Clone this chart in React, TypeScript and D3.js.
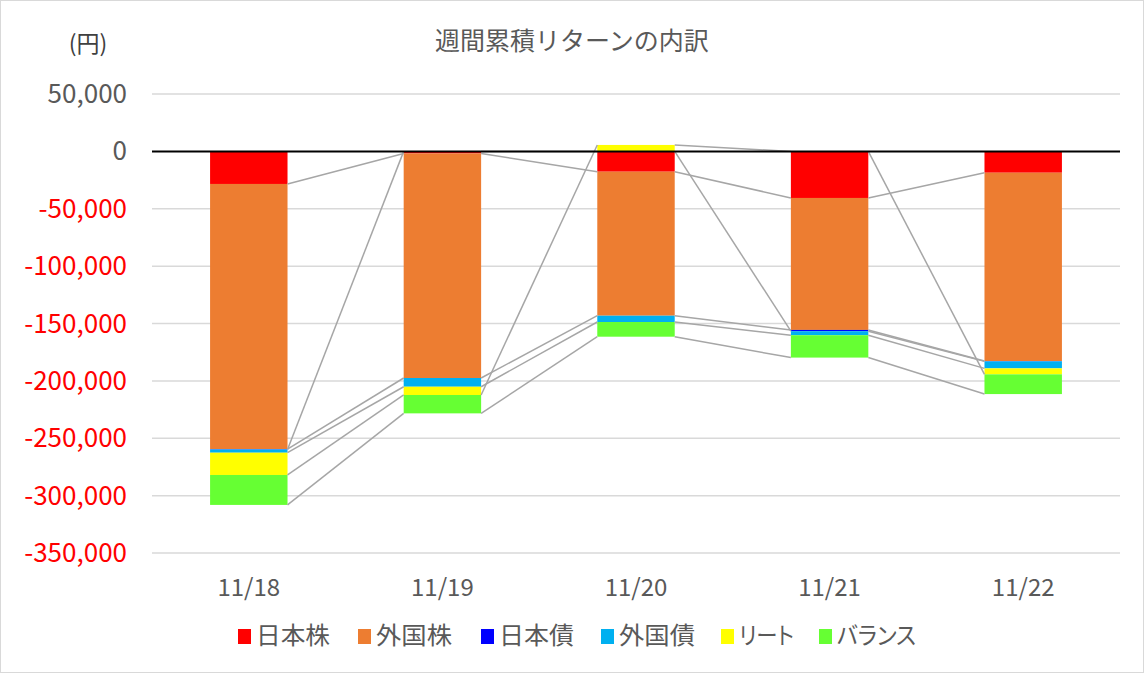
import React from "react";
import * as d3 from "d3";

const categories = ["11/18", "11/19", "11/20", "11/21", "11/22"];
const seriesNames = ["日本株", "外国株", "日本債", "外国債", "リート", "バランス"];
const seriesColors = ["#FF0000", "#ED7D31", "#0000FF", "#00B0F0", "#FFFF00", "#66FF33"];

const japanStock = [-28400, -1800, -17700, -40600, -18600];
const foreignStock = [-231000, -195700, -125500, -115000, -164100];
const japanBond = [-400, 0, 0, -1100, -300];
const foreignBond = [-2800, -7600, -5500, -3500, -6100];
const reit = [-19400, -7200, 5600, 0, -5200];
const balance = [-26100, -16000, -12800, -19500, -17200];

const seriesValues = [japanStock, foreignStock, japanBond, foreignBond, reit, balance];

const yTicks = [50000, 0, -50000, -100000, -150000, -200000, -250000, -300000, -350000];

const W = 1144;
const H = 673;
const FONT = "'Noto Sans CJK JP', 'Noto Sans', sans-serif";

export default function App() {
  const x = d3.scaleBand<string>().domain(categories).range([152, 1120]).paddingInner(0.6).paddingOuter(0.3);
  const y = d3.scaleLinear().domain([-350000, 50000]).range([553, 94]);

  const rows = categories.map((c, i) => {
    const r: any = { cat: c };
    seriesNames.forEach((s, k) => (r[s] = seriesValues[k][i]));
    return r;
  });
  const stacked = d3.stack<any>().keys(seriesNames).offset(d3.stackOffsetDiverging)(rows);

  const bw = x.bandwidth();
  const fmt = d3.format(",");

  const endVal = (d: any, v: number) => (v < 0 ? d[0] : d[1]);

  // legend layout
  const legendX = [238, 358, 481, 601, 721, 819];
  const legendW = [74, 76, 75, 76, 55, 79];

  return (
    <svg width={W} height={H} style={{ position: "absolute", left: 0, top: 0 }} fontFamily={FONT}>
      <rect x={0} y={0} width={W} height={H} fill="#fff" />
      <rect x={0.5} y={0.5} width={W - 1} height={H - 1} fill="none" stroke="#D9D9D9" strokeWidth={1} />
      <text x={572} y={43} textAnchor="middle" dominantBaseline="middle" fontSize={25} fill="#595959">
        週間累積リターンの内訳
      </text>
      <text x={88} y={46} textAnchor="middle" dominantBaseline="middle" fontSize={23} fill="#404040">
        (円)
      </text>
      {yTicks.map((t) => (
        <g key={t}>
          {t !== 0 && (
            <line x1={152} x2={1120} y1={y(t)} y2={y(t)} stroke="#D9D9D9" strokeWidth={1.5} />
          )}
          <text
            x={127}
            y={y(t) + 2}
            textAnchor="end"
            dominantBaseline="middle"
            fontSize={26}
            fill={t < 0 ? "#FF0000" : "#595959"}
          >
            {t < 0 ? "-" + fmt(-t) : fmt(t)}
          </text>
        </g>
      ))}
      {stacked.map((ser, k) =>
        ser.map((d, i) => (
          <rect
            key={k + "-" + i}
            x={x(categories[i])}
            width={bw}
            y={y(d[1])}
            height={Math.max(0, y(d[0]) - y(d[1]))}
            fill={seriesColors[k]}
          />
        ))
      )}
      {stacked.map((ser, k) =>
        ser.slice(0, -1).map((d, i) => {
          const n = ser[i + 1];
          const v0 = endVal(d, seriesValues[k][i]);
          const v1 = endVal(n, seriesValues[k][i + 1]);
          return (
            <line
              key={"sl" + k + "-" + i}
              x1={(x(categories[i]) as number) + bw}
              x2={x(categories[i + 1]) as number}
              y1={y(v0)}
              y2={y(v1)}
              stroke="#A6A6A6"
              strokeWidth={1.5}
            />
          );
        })
      )}
      <line x1={152} x2={1120} y1={y(0)} y2={y(0)} stroke="#000" strokeWidth={2} />
      {categories.map((c) => (
        <text
          key={c}
          x={(x(c) as number) + bw / 2}
          y={589}
          textAnchor="middle"
          dominantBaseline="middle"
          fontSize={24}
          fill="#595959"
        >
          {c}
        </text>
      ))}
      {seriesNames.map((s, k) => (
        <g key={s}>
          <rect x={legendX[k]} y={629} width={13} height={15} fill={seriesColors[k]} />
          <text
            x={legendX[k] + 18}
            y={637}
            dominantBaseline="middle"
            fontSize={24}
            fill="#595959"
            textLength={legendW[k]}
            lengthAdjust="spacingAndGlyphs"
            style={{ fontFeatureSettings: "'palt'" }}
          >
            {s}
          </text>
        </g>
      ))}
    </svg>
  );
}
